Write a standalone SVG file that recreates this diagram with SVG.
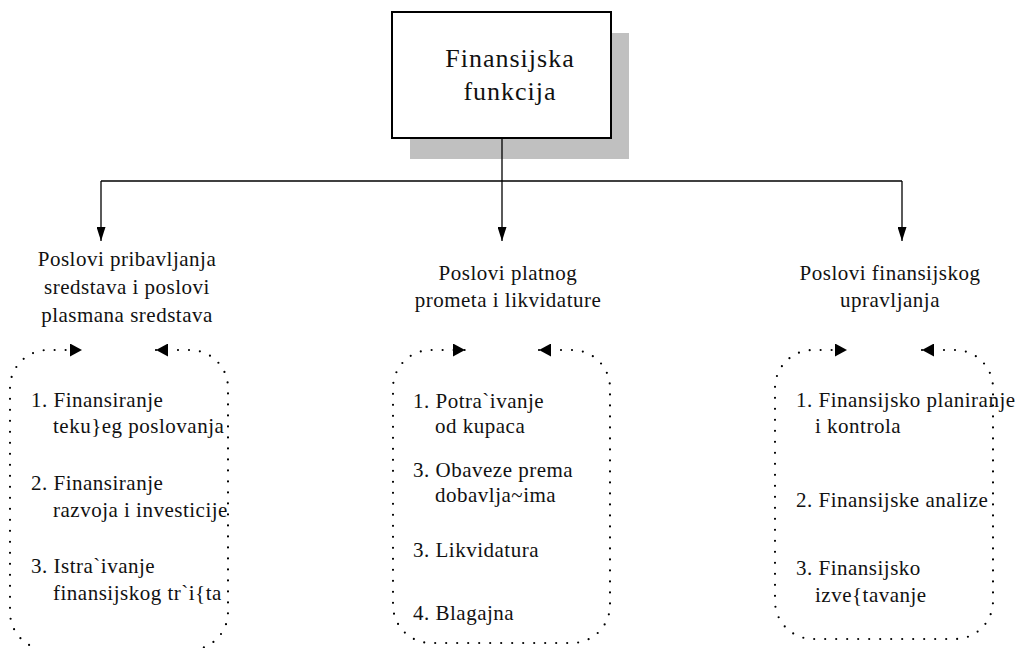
<svg xmlns="http://www.w3.org/2000/svg" width="1020" height="648" viewBox="0 0 1020 648">
  <style>
    text { font-family: "Liberation Serif", "Times New Roman", serif; fill: #111; }
    .title { font-size: 26px; letter-spacing: 1px; text-anchor: middle; }
    .head { font-size: 21px; letter-spacing: 0.5px; text-anchor: middle; }
    .item { font-size: 21px; letter-spacing: 0.5px; }
    .wire { fill: none; stroke: #000; stroke-width: 1.3; }
    .loop { fill: none; stroke: #000; stroke-width: 2.2; stroke-linecap: round; stroke-dasharray: 0 11; }
  </style>
  <defs>
    <marker id="arrowDown" viewBox="0 0 9 14" refX="4.5" refY="14" markerWidth="9" markerHeight="14" markerUnits="userSpaceOnUse" orient="0">
      <path d="M0,0 L9,0 L4.5,14 Z" fill="#000"/>
    </marker>
    <marker id="loopHead" viewBox="0 0 12 13" refX="12" refY="6.5" markerWidth="12" markerHeight="13" markerUnits="userSpaceOnUse" orient="auto-start-reverse">
      <path d="M0,0 L12,6.5 L0,13 Z" fill="#000"/>
    </marker>
  </defs>

  <rect width="1020" height="648" fill="#fff"/>

  <!-- root node with drop shadow -->
  <g id="node-root">
    <rect x="410" y="33" width="219" height="126" fill="#c0c0c0"/>
    <rect x="392" y="12" width="219" height="126" fill="#fff" stroke="#000" stroke-width="2"/>
    <text class="title" x="510" y="67">Finansijska</text>
    <text class="title" x="510" y="100">funkcija</text>
  </g>

  <!-- tree connectors -->
  <g id="connectors">
    <path class="wire" d="M502,138 V181"/>
    <path class="wire" d="M101,181 H902"/>
    <path class="wire" d="M101,181 V241" marker-end="url(#arrowDown)"/>
    <path class="wire" d="M502,181 V241" marker-end="url(#arrowDown)"/>
    <path class="wire" d="M902,181 V241" marker-end="url(#arrowDown)"/>
  </g>

  <!-- branch 1 -->
  <g id="node-pribavljanje">
    <text class="head" x="127" y="266">Poslovi pribavljanja</text>
    <text class="head" x="127" y="294">sredstava i poslovi</text>
    <text class="head" x="127" y="322">plasmana sredstava</text>
    <path class="loop" marker-start="url(#loopHead)" marker-end="url(#loopHead)"
          d="M156,350 H190 A38,38 0 0 1 228,388 V612 A38,38 0 0 1 190,650 H48 A38,38 0 0 1 10,612 V388 A38,38 0 0 1 48,350 H82"/>
    <text class="item" x="31" y="407">1. Finansiranje</text>
    <text class="item" x="53" y="433">teku}eg poslovanja</text>
    <text class="item" x="31" y="490">2. Finansiranje</text>
    <text class="item" x="53" y="517">razvoja i investicije</text>
    <text class="item" x="31" y="573">3. Istra`ivanje</text>
    <text class="item" x="53" y="600">finansijskog tr`i{ta</text>
  </g>

  <!-- branch 2 -->
  <g id="node-platni-promet">
    <text class="head" x="508" y="280">Poslovi platnog</text>
    <text class="head" x="508" y="307">prometa i likvidature</text>
    <path class="loop" marker-start="url(#loopHead)" marker-end="url(#loopHead)"
          d="M539,350 H572 A38,38 0 0 1 610,388 V605 A38,38 0 0 1 572,643 H431 A38,38 0 0 1 393,605 V388 A38,38 0 0 1 431,350 H465"/>
    <text class="item" x="413" y="408">1. Potra`ivanje</text>
    <text class="item" x="435" y="433">od kupaca</text>
    <text class="item" x="413" y="477">3. Obaveze prema</text>
    <text class="item" x="435" y="502">dobavlja~ima</text>
    <text class="item" x="413" y="557">3. Likvidatura</text>
    <text class="item" x="413" y="620">4. Blagajna</text>
  </g>

  <!-- branch 3 -->
  <g id="node-upravljanje">
    <text class="head" x="890" y="280">Poslovi finansijskog</text>
    <text class="head" x="890" y="307">upravljanja</text>
    <path class="loop" marker-start="url(#loopHead)" marker-end="url(#loopHead)"
          d="M922,350 H955 A38,38 0 0 1 993,388 V601 A38,38 0 0 1 955,639 H813 A38,38 0 0 1 775,601 V388 A38,38 0 0 1 813,350 H847"/>
    <text class="item" x="796" y="407">1. Finansijsko planiranje</text>
    <text class="item" x="815" y="433">i kontrola</text>
    <text class="item" x="796" y="507">2. Finansijske analize</text>
    <text class="item" x="796" y="575">3. Finansijsko</text>
    <text class="item" x="815" y="602">izve{tavanje</text>
  </g>
</svg>
